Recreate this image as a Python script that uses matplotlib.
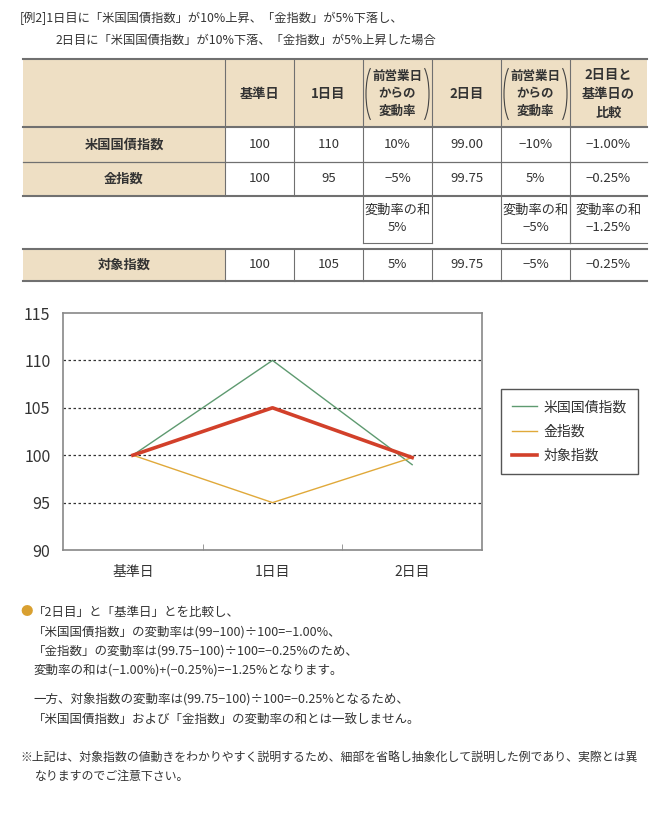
import matplotlib
matplotlib.use('Agg')
import matplotlib.pyplot as plt
from matplotlib.patches import Rectangle, Arc

plt.rcParams['font.family'] = ['Noto Sans CJK JP', 'DejaVu Sans']

# ---- data ----
title_lines = ['[例2]1日目に「米国国債指数」が10%上昇、「金指数」が5%下落し、',
               '2日目に「米国国債指数」が10%下落、「金指数」が5%上昇した場合']

col_headers = ['基準日', '1日目', '前営業日\nからの\n変動率', '2日目',
               '前営業日\nからの\n変動率', '2日目と\n基準日の\n比較']
row_labels = ['米国国債指数', '金指数', '対象指数']
us_bond_row = ['100', '110', '10%', '99.00', '−10%', '−1.00%']
gold_row = ['100', '95', '−5%', '99.75', '5%', '−0.25%']
target_row = ['100', '105', '5%', '99.75', '−5%', '−0.25%']
sum_row = ['', '', '変動率の和\n5%', '', '変動率の和\n−5%', '変動率の和\n−1.25%']

days = ['基準日', '1日目', '2日目']
us_bond = [100, 110, 99.00]
gold = [100, 95, 99.75]
target = [100, 105, 99.75]

notes = ['「2日目」と「基準日」とを比較し、',
         '「米国国債指数」の変動率は(99−100)÷100=−1.00%、',
         '「金指数」の変動率は(99.75−100)÷100=−0.25%のため、',
         '変動率の和は(−1.00%)+(−0.25%)=−1.25%となります。',
         '一方、対象指数の変動率は(99.75−100)÷100=−0.25%となるため、',
         '「米国国債指数」および「金指数」の変動率の和とは一致しません。']
caution = ['※上記は、対象指数の値動きをわかりやすく説明するため、細部を省略し抽象化して説明した例であり、実際とは異',
           'なりますのでご注意下さい。']

TXT = '#333333'
BEIGE = '#EEDFC4'
LINE = '#707070'
FS = 9.5

fig = plt.figure(figsize=(6.68, 8.16), dpi=100)

# overlay in pixel coords for table and text
ov = fig.add_axes([0, 0, 1, 1])
ov.set_xlim(0, 668)
ov.set_ylim(816, 0)
ov.axis('off')

ov.text(20, 18, title_lines[0], fontsize=8.8, color=TXT, va='center')
ov.text(56, 40, title_lines[1], fontsize=8.8, color=TXT, va='center')

edges = [23, 225, 294, 363, 432, 501, 570, 647]

# header row
ov.add_patch(Rectangle((23, 59), 624, 68, fc=BEIGE, ec='none'))
for i, h in enumerate(col_headers):
    l, r = edges[i + 1], edges[i + 2]
    paren = h.startswith('前営業日')
    ov.text((l + r) / 2, 94, h, ha='center', va='center',
            fontsize=9 if paren else FS,
            weight='bold', linespacing=1.45, color=TXT)
    if paren:
        # parametric 120deg -> geometric angle ~102deg for a tall ellipse
        ov.add_patch(Arc((l + 13, 94), 20, 62, theta1=102, theta2=258, color='#444444', lw=0.8))
        ov.add_patch(Arc((r - 13, 94), 20, 62, theta1=-78, theta2=78, color='#444444', lw=0.8))
for x in edges[1:-1]:
    ov.plot([x, x], [59, 127], color=LINE, lw=0.8)

# body rows
rows_y = [(128, 162), (162, 196), (249, 281)]
for (y0, y1), lab, vals in zip(rows_y, row_labels, [us_bond_row, gold_row, target_row]):
    ov.add_patch(Rectangle((23, y0), 202, y1 - y0, fc=BEIGE, ec='none'))
    ym = (y0 + y1) / 2
    ov.text(124, ym, lab, ha='center', va='center', fontsize=FS, weight='bold', color=TXT)
    for j, v in enumerate(vals):
        ov.text((edges[j + 1] + edges[j + 2]) / 2, ym, v, ha='center', va='center',
                fontsize=FS, color=TXT)
    for x in edges[1:-1]:
        ov.plot([x, x], [y0, y1], color=LINE, lw=0.8)

# sum-of-change row
for j, v in enumerate(sum_row):
    if not v:
        continue
    l, r = edges[j + 1], edges[j + 2]
    ov.text((l + r) / 2, 219, v, ha='center', va='center', fontsize=FS,
            linespacing=1.35, color=TXT)
    ov.plot([l, l], [196, 243], color=LINE, lw=0.8)
    if r < 647:
        ov.plot([r, r], [196, 243], color=LINE, lw=0.8)
    ov.plot([l, r], [243, 243], color=LINE, lw=0.8)

for y in [59, 127, 196, 249, 281]:
    ov.plot([23, 647], [y, y], color=LINE, lw=1.5)
ov.plot([23, 647], [162, 162], color=LINE, lw=0.9)

# notes
ov.text(20, 612, '●', fontsize=9, color='#D9A030', va='center')
note_y = [612, 632, 651, 670, 700, 719]
for y, s in zip(note_y, notes):
    ov.text(33, y, s, fontsize=9, color=TXT, va='center')
ov.text(20, 757, caution[0], fontsize=8.6, color=TXT, va='center')
ov.text(35, 776, caution[1], fontsize=8.6, color=TXT, va='center')

# ---- line chart ----
ax = fig.add_axes([63 / 668, 1 - 550 / 816, (482 - 63) / 668, (550 - 313) / 816])
x = range(len(days))
ax.plot(x, us_bond, color='#5E9A70', lw=1.0, label='米国国債指数', zorder=3)
ax.plot(x, gold, color='#E0A93A', lw=1.0, label='金指数', zorder=3)
ax.plot(x, target, color='#D2402A', lw=2.6, label='対象指数', zorder=4)

ax.set_xlim(-0.5, 2.5)
ax.set_ylim(90, 115)
ax.set_yticks([90, 95, 100, 105, 110, 115])
ax.set_xticks(list(x))
ax.set_xticklabels(days)
ax.set_xticks([0.5, 1.5], minor=True)
ax.tick_params(axis='y', length=0, pad=9, labelsize=11.5, labelcolor=TXT)
ax.tick_params(axis='x', which='major', length=0, pad=11, labelsize=10, labelcolor=TXT)
ax.tick_params(axis='x', which='minor', direction='in', length=4, color='#888888')
for yv in [95, 100, 105, 110]:
    ax.axhline(yv, color='#333333', lw=0.9, ls=(0, (2, 2)), zorder=1)
for sp in ax.spines.values():
    sp.set_color('#888888')
    sp.set_linewidth(1.2)

leg = ax.legend(loc='upper left', bbox_to_anchor=(501 / 668, 1 - 389 / 816),
                bbox_transform=fig.transFigure, fontsize=10, frameon=True,
                fancybox=False, edgecolor='#555555', framealpha=1,
                handlelength=1.8, handletextpad=0.45, labelspacing=0.75,
                borderpad=0.8, borderaxespad=0)
leg.get_frame().set_linewidth(1.0)
for t in leg.get_texts():
    t.set_color(TXT)

fig.savefig('out.png', dpi=100)
